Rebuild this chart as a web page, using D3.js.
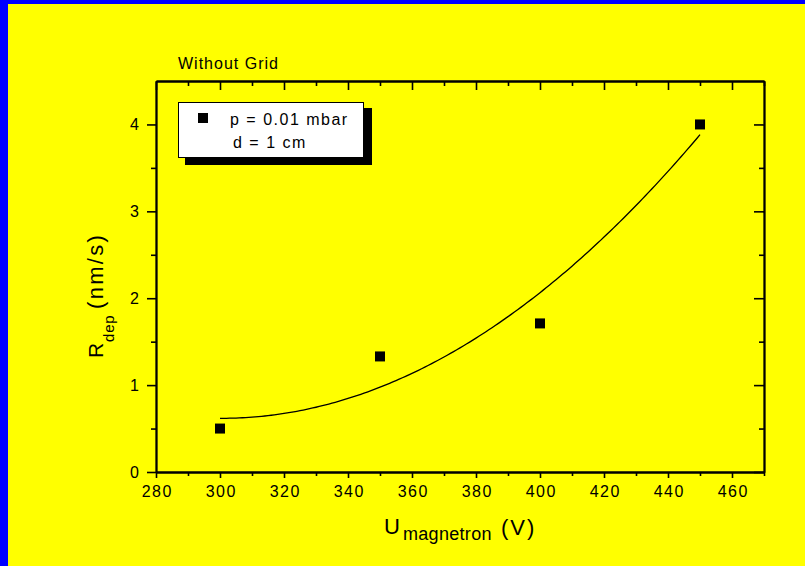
<!DOCTYPE html>
<html>
<head>
<meta charset="utf-8">
<script src="https://cdn.jsdelivr.net/npm/d3@7"></script>
<style>
  html, body { margin: 0; padding: 0; background: #0000ff; }
  svg { display: block; }
  text { font-family: "Liberation Sans", Arial, sans-serif; fill: #000; }
</style>
</head>
<body>
<svg id="chart" width="805" height="566"></svg>
<script>
// Deposition rate versus magnetron voltage, measured without grid
const voltages = [300, 350, 400, 450];
const depRates = [0.50, 1.33, 1.71, 4.00];

const xMajorTicks = [280, 300, 320, 340, 360, 380, 400, 420, 440, 460];
const xMinorTicks = [290, 310, 330, 350, 370, 390, 410, 430, 450, 470];
const yMajorTicks = [0, 1, 2, 3, 4];
const yMinorTicks = [0.5, 1.5, 2.5, 3.5];

const chartTitle = "Without Grid";
const legendLines = ["p = 0.01 mbar", "d = 1 cm"];

const W = 805, H = 566;
const plot = { left: 156, right: 764, top: 81, bottom: 472 };
const FONT = '"Liberation Sans", Arial, sans-serif';

const svg = d3.select("#chart");

// page frame: blue edge, yellow sheet
svg.append("rect").attr("width", W).attr("height", H).attr("fill", "#0000ff");
svg.append("rect").attr("x", 8).attr("y", 4).attr("width", W - 8).attr("height", H - 4).attr("fill", "#ffff00");

const x = d3.scaleLinear().domain([280, 470]).range([plot.left, plot.right]);
const y = d3.scaleLinear().domain([0, 4.5]).range([plot.bottom, plot.top]);

// least-squares quadratic through the measured points
function quadFit(xs, ys) {
  const n = xs.length;
  const mx = d3.mean(xs), sx = 50;
  const u = xs.map(v => (v - mx) / sx);
  const s = k => d3.sum(u, v => Math.pow(v, k));
  const t = k => d3.sum(u, (v, i) => Math.pow(v, k) * ys[i]);
  const A = [[n, s(1), s(2)], [s(1), s(2), s(3)], [s(2), s(3), s(4)]];
  const b = [t(0), t(1), t(2)];
  for (let i = 0; i < 3; i++) {
    for (let j = i + 1; j < 3; j++) {
      const f = A[j][i] / A[i][i];
      for (let k = i; k < 3; k++) A[j][k] -= f * A[i][k];
      b[j] -= f * b[i];
    }
  }
  const c = [0, 0, 0];
  for (let i = 2; i >= 0; i--) {
    let acc = b[i];
    for (let k = i + 1; k < 3; k++) acc -= A[i][k] * c[k];
    c[i] = acc / A[i][i];
  }
  return v => { const w = (v - mx) / sx; return c[0] + c[1] * w + c[2] * w * w; };
}

const fit = quadFit(voltages, depRates);
const xExtent = d3.extent(voltages);
const fitXs = d3.range(xExtent[0], xExtent[1] + 0.001, 1);

// axes
function styleAxis(g) {
  g.selectAll("path.domain").attr("stroke", "#000").attr("stroke-width", 1.8);
  g.selectAll(".tick line").attr("stroke", "#000").attr("stroke-width", 1.6);
}

svg.append("g").attr("transform", `translate(0,${plot.bottom})`)
  .call(d3.axisBottom(x).tickValues(xMajorTicks).tickSize(6).tickSizeOuter(0).tickPadding(8).tickFormat(d3.format("d")))
  .call(styleAxis)
  .call(g => g.selectAll("text").attr("font-size", 16).attr("letter-spacing", 1.5).attr("dx", 0.75)
    .style("font-family", FONT).attr("fill", "#000"));
svg.append("g").attr("transform", `translate(0,${plot.bottom})`)
  .call(d3.axisBottom(x).tickValues(xMinorTicks).tickSize(4).tickSizeOuter(0).tickFormat(""))
  .call(styleAxis);

svg.append("g").attr("transform", `translate(0,${plot.top})`)
  .call(d3.axisTop(x).tickValues(xMajorTicks).tickSize(-9).tickSizeOuter(0).tickFormat(""))
  .call(styleAxis);
svg.append("g").attr("transform", `translate(0,${plot.top})`)
  .call(d3.axisTop(x).tickValues(xMinorTicks).tickSize(-5).tickSizeOuter(0).tickFormat(""))
  .call(styleAxis);

svg.append("g").attr("transform", `translate(${plot.left},0)`)
  .call(d3.axisLeft(y).tickValues(yMajorTicks).tickSize(9).tickSizeOuter(0).tickPadding(8).tickFormat(d3.format("d")))
  .call(styleAxis)
  .call(g => g.selectAll("text").attr("font-size", 16)
    .style("font-family", FONT).attr("fill", "#000"));
svg.append("g").attr("transform", `translate(${plot.left},0)`)
  .call(d3.axisLeft(y).tickValues(yMinorTicks).tickSize(5).tickSizeOuter(0).tickFormat(""))
  .call(styleAxis);

svg.append("g").attr("transform", `translate(${plot.right},0)`)
  .call(d3.axisRight(y).tickValues(yMajorTicks).tickSize(-10).tickSizeOuter(0).tickFormat(""))
  .call(styleAxis);
svg.append("g").attr("transform", `translate(${plot.right},0)`)
  .call(d3.axisRight(y).tickValues(yMinorTicks).tickSize(-5).tickSizeOuter(0).tickFormat(""))
  .call(styleAxis);

// fitted curve
svg.append("path")
  .datum(fitXs)
  .attr("fill", "none")
  .attr("stroke", "#000")
  .attr("stroke-width", 1.3)
  .attr("d", d3.line().x(d => x(d)).y(d => y(fit(d))));

// measured points
const ms = 10;
svg.append("g").selectAll("rect")
  .data(voltages.map((v, i) => [v, depRates[i]]))
  .join("rect")
  .attr("x", d => x(d[0]) - ms / 2)
  .attr("y", d => y(d[1]) - ms / 2)
  .attr("width", ms).attr("height", ms)
  .attr("fill", "#000");

// title
svg.append("text").attr("x", 178).attr("y", 69)
  .attr("font-size", 16).attr("letter-spacing", 1).text(chartTitle);

// legend with drop shadow
const lg = svg.append("g");
lg.append("rect").attr("x", 185).attr("y", 108).attr("width", 187).attr("height", 57).attr("fill", "#000");
lg.append("rect").attr("x", 178.5).attr("y", 102.5).attr("width", 185).attr("height", 55)
  .attr("fill", "#fff").attr("stroke", "#000").attr("stroke-width", 1);
lg.append("rect").attr("x", 198).attr("y", 113).attr("width", ms).attr("height", ms).attr("fill", "#000");
lg.append("text").attr("x", 230).attr("y", 125).attr("font-size", 16).attr("letter-spacing", 1.5).text(legendLines[0]);
lg.append("text").attr("x", 233).attr("y", 148).attr("font-size", 16).attr("letter-spacing", 1.5).text(legendLines[1]);

// x axis title
const xt = svg.append("g");
xt.append("text").attr("x", 384).attr("y", 534).attr("font-size", 22).text("U");
xt.append("text").attr("x", 403).attr("y", 540).attr("font-size", 18).attr("letter-spacing", 0.3).text("magnetron");
xt.append("text").attr("x", 501).attr("y", 535).attr("font-size", 22).attr("letter-spacing", 2).text("(V)");

// y axis title
const yt = svg.append("g").attr("transform", "translate(103,358) rotate(-90)");
yt.append("text").attr("x", 0).attr("y", 0).attr("font-size", 21).text("R");
yt.append("text").attr("x", 16).attr("y", 11).attr("font-size", 15).attr("letter-spacing", 0.8).text("dep");
yt.append("text").attr("x", 49).attr("y", 0).attr("font-size", 22).attr("letter-spacing", 2.3).text("(nm/s)");
</script>
</body>
</html>
